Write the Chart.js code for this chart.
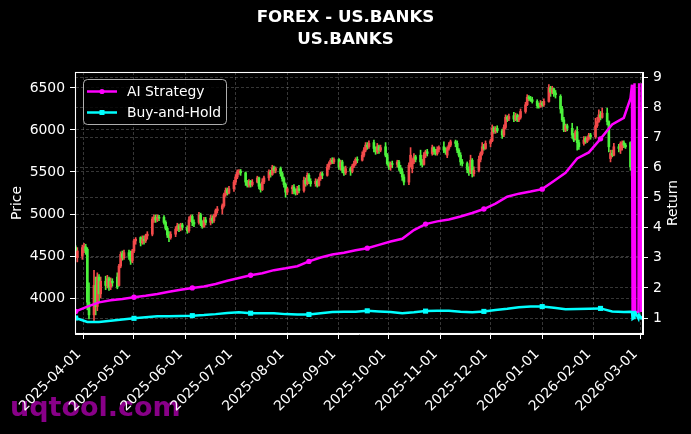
<!DOCTYPE html>
<html><head><meta charset="utf-8">
<script src="https://cdn.jsdelivr.net/npm/chart.js@4.4.1/dist/chart.umd.min.js"></script>
<style>html,body{margin:0;padding:0;background:#000;}#wrap{width:691px;height:434px;}</style>
</head><body><div id="wrap"><canvas id="c" width="691" height="434"></canvas></div>
<script>
// ---------- data ----------
const titleLines = ['FOREX - US.BANKS', 'US.BANKS'];
const candleStart = '2025-03-27'; // first trading day, weekdays follow
const openP = [4600,4480, 4500,4600,4610,4580,3950, 3800,4150,3900,4250,4050, 4200,4150,4230,4130,4200, 4250,4150,4380,4530,4480, 4540,4500,4440,4560,4680, 4720,4660,4700,4680,4740, 4760,4940,4960,4930,4960, 4960,4900,4830,4750,4720, 4760,4820,4860,4820,4870, 4840,4800,4930,4970,4900, 4900,4990,4900,4850,4930, 4900,4950,4920,4980,5040, 5060,5100,5230,5290,5250, 5300,5380,5440,5500,5510, 5490,5380,5340,5390,5350, 5380,5430,5330,5290,5380, 5430,5500,5470,5550,5520, 5540,5480,5420,5350,5260, 5300,5320,5270,5250,5300, 5280,5400,5360,5460,5390, 5360,5390,5340,5420,5480, 5460,5560,5600,5640,5620, 5650,5560,5620,5520,5490, 5540,5510,5570,5600,5650, 5640,5700,5760,5820,5800, 5850,5780,5740,5800,5760, 5800,5700,5600,5560,5600, 5590,5620,5550,5500,5440, 5380,5580,5540,5620,5680, 5700,5620,5590,5700,5740, 5720,5790,5740,5720,5770, 5800,5760,5700,5780,5820, 5860,5840,5760,5700,5620, 5600,5530,5500,5640,5480, 5520,5650,5720,5800,5780, 5840,5870,6020,5980,6020, 5990,5940,6030,6150,6130, 6170,6130,6170,6120,6150, 6220,6300,6390,6370,6360, 6340,6290,6280,6320,6300, 6340,6500,6450,6490,6440, 6400,6250,6120,6000,6050, 6020,5940,5900,5980,5850, 5840,5900,5860,5900,5940, 5920,6050,6100,6180,6150, 6200,6100,5660,5720,5700, 5800,5760,5790,5850,5820, 5850,5550];
const highP = [4620,4600, 4630,4650,4640,4600,4180, 4330,4250,4300,4280,4250, 4260,4270,4250,4240,4230, 4300,4400,4550,4560,4570, 4570,4560,4580,4700,4720, 4730,4740,4740,4760,4790, 4965,4990,4990,4990,4985, 4980,4920,4850,4790,4790, 4850,4890,4880,4890,4890, 4860,4965,4990,4990,4930, 5020,5010,4920,4960,4960, 4990,4980,5000,5060,5090, 5120,5250,5310,5310,5330, 5400,5470,5525,5530,5530, 5500,5400,5410,5400,5410, 5450,5440,5360,5420,5450, 5525,5520,5580,5570,5560, 5560,5500,5440,5370,5320, 5340,5350,5300,5330,5340, 5440,5430,5490,5480,5420, 5420,5410,5440,5500,5500, 5590,5620,5660,5670,5670, 5660,5640,5640,5560,5570, 5560,5590,5630,5670,5680, 5740,5790,5850,5850,5870, 5880,5800,5840,5820,5820, 5850,5720,5620,5620,5630, 5640,5640,5580,5540,5470, 5610,5790,5660,5720,5700, 5760,5650,5730,5760,5770, 5820,5800,5770,5800,5810, 5860,5790,5800,5850,5880, 5880,5870,5780,5730,5650, 5620,5560,5700,5660,5560, 5690,5740,5850,5830,5870, 5890,6060,6040,6040,6050, 6010,6060,6180,6170,6190, 6210,6200,6190,6180,6250, 6330,6420,6410,6400,6390, 6360,6320,6350,6340,6370, 6540,6520,6520,6500,6470, 6420,6280,6150,6070,6070, 6080,5960,6000,6040,5880, 5920,5920,5920,5960,5960, 6140,6150,6240,6220,6260, 6260,6110,5760,5760,5840, 5830,5860,5870,5870,5840, 5860,5570];
const lowP = [4480,4430, 4460,4540,4520,3860,3750, 3720,3800,3850,3960,4000, 4100,4120,4090,4100,4140, 4110,4140,4360,4450,4460, 4460,4400,4420,4540,4640, 4620,4640,4640,4660,4700, 4740,4900,4900,4910,4920, 4880,4810,4720,4670,4700, 4730,4800,4790,4800,4810, 4770,4780,4910,4860,4850, 4880,4860,4830,4840,4870, 4870,4890,4900,4965,5010, 5000,5080,5210,5225,5240, 5270,5350,5420,5470,5460, 5340,5320,5320,5320,5330, 5370,5300,5260,5280,5360, 5400,5440,5460,5490,5490, 5450,5390,5320,5200,5230, 5240,5240,5225,5230,5250, 5260,5330,5345,5360,5330, 5330,5320,5330,5400,5420, 5450,5530,5590,5600,5600, 5530,5520,5490,5460,5470, 5460,5490,5550,5580,5610, 5630,5680,5740,5770,5780, 5740,5710,5720,5720,5740, 5680,5580,5530,5520,5550, 5560,5520,5480,5400,5345, 5350,5560,5490,5600,5620, 5580,5560,5580,5670,5690, 5700,5710,5700,5700,5740, 5730,5710,5670,5760,5800, 5800,5730,5680,5580,5570, 5490,5460,5480,5440,5450, 5500,5620,5700,5760,5770, 5800,5860,5960,5960,5970, 5900,5920,6010,6100,6110, 6100,6110,6100,6100,6130, 6200,6290,6350,6340,6320, 6260,6260,6270,6280,6280, 6330,6400,6430,6400,6380, 6200,6100,5980,5980,5990, 5900,5860,5880,5760,5770, 5820,5840,5850,5880,5890, 5900,6030,6090,6120,6140, 6060,5740,5620,5680,5690, 5740,5720,5760,5790,5780, 5520,5430];
const closeP = [4500,4560, 4600,4620,4560,3950,3800, 4150,3900,4250,4050,4200, 4150,4230,4130,4200,4180, 4130,4380,4520,4480,4540, 4500,4440,4560,4680,4700, 4660,4700,4680,4740,4760, 4940,4960,4930,4960,4950, 4900,4830,4750,4720,4760, 4820,4860,4820,4870,4840, 4800,4930,4970,4900,4880, 4990,4900,4850,4930,4900, 4950,4920,4980,5040,5060, 5100,5230,5280,5250,5300, 5380,5440,5500,5510,5490, 5380,5340,5390,5350,5380, 5430,5330,5290,5380,5430, 5500,5470,5550,5520,5540, 5480,5420,5350,5260,5300, 5320,5270,5250,5300,5280, 5400,5360,5460,5390,5360, 5390,5340,5420,5480,5460, 5560,5600,5640,5620,5650, 5560,5620,5520,5490,5540, 5510,5570,5600,5650,5640, 5700,5760,5820,5800,5840, 5780,5740,5800,5760,5790, 5700,5600,5560,5600,5590, 5620,5550,5500,5440,5380, 5580,5700,5620,5680,5650, 5620,5590,5700,5740,5720, 5790,5740,5720,5770,5790, 5760,5740,5780,5820,5860, 5840,5760,5700,5620,5600, 5530,5500,5640,5480,5520, 5650,5720,5800,5780,5840, 5870,6020,5980,6020,5990, 5940,6030,6150,6130,6160, 6130,6170,6120,6150,6220, 6300,6390,6370,6360,6340, 6290,6280,6320,6300,6340, 6500,6450,6490,6440,6420, 6250,6120,6000,6050,6020, 5940,5880,5980,5850,5800, 5880,5860,5900,5940,5920, 6050,6100,6180,6150,6200, 6100,5800,5720,5700,5800, 5780,5840,5850,5820,5800, 5560,5460];

const returnStart = '2025-03-27'; // weekly samples
const aiReturn = [1.22,1.38,1.52,1.59,1.63,1.69,1.74,1.80,1.87,1.94,2.00,2.05,2.13,2.24,2.33,2.42,2.49,2.59,2.65,2.72,2.88,3.01,3.11,3.17,3.25,3.32,3.43,3.54,3.63,3.92,4.12,4.21,4.27,4.37,4.49,4.62,4.80,5.03,5.13,5.20,5.28,5.55,5.82,6.30,6.50,6.95,7.43,7.65];
const bhReturn = [1.00,0.87,0.87,0.91,0.95,0.99,1.03,1.06,1.06,1.07,1.08,1.10,1.13,1.17,1.19,1.16,1.16,1.16,1.13,1.12,1.12,1.16,1.20,1.21,1.21,1.24,1.22,1.20,1.16,1.19,1.23,1.24,1.24,1.21,1.19,1.22,1.27,1.31,1.36,1.38,1.38,1.34,1.29,1.30,1.31,1.32,1.22,1.20];
const tailTimes = ['2026-02-23T00:00','2026-02-23T21:36','2026-02-24T06:00','2026-02-25T02:24','2026-02-25T09:36','2026-02-25T19:12','2026-02-27T19:12','2026-02-28T04:48','2026-03-01T09:36','2026-03-02T00:00'];
const aiTail = [8.30,8.75,1.20,1.20,8.80,1.20,1.20,8.80,1.20,8.80];
const bhTail = [1.21,1.20,0.97,1.00,1.20,1.20,0.98,1.10,1.00,1.05];

const monthTicks = ['2025-04-01','2025-05-01','2025-06-01','2025-07-01','2025-08-01','2025-09-01','2025-10-01','2025-11-01','2025-12-01','2026-01-01','2026-02-01','2026-03-01'];
const priceTicks = [4000,4500,5000,5500,6000,6500];
const returnTicks = [1,2,3,4,5,6,7,8,9];

// ---------- helpers ----------
const BASE = Date.UTC(2025,3,1);
const DAY = 86400000;
function toDay(s){
  const [d,t] = s.split('T');
  const [y,m,dd] = d.split('-').map(Number);
  let ms = Date.UTC(y,m-1,dd);
  if (t){ const [hh,mm] = t.split(':').map(Number); ms += (hh*60+mm)*60000; }
  return (ms-BASE)/DAY;
}
const nC = Math.min(openP.length, highP.length, lowP.length, closeP.length);
const candleDays = [];
{ let ms = BASE + toDay(candleStart)*DAY;
  while (candleDays.length < nC){ const wd = new Date(ms).getUTCDay(); if (wd!==0 && wd!==6) candleDays.push((ms-BASE)/DAY); ms += DAY; } }
const RED = '#f24a4a', GREEN = '#4cf23c';
const cColors = [];
for (let i=0;i<nC;i++) cColors.push(closeP[i] >= openP[i] ? RED : GREEN);
const bodies = [], wicks = [];
for (let i=0;i<nC;i++){ bodies.push({x:candleDays[i], y:[openP[i], closeP[i]]}); wicks.push({x:candleDays[i], y:[lowP[i], highP[i]]}); }
const r0 = toDay(returnStart);
function lineData(weekly, tail){
  return weekly.map((v,i)=>({x:r0+7*i, y:v})).concat(tail.map((v,i)=>({x:toDay(tailTimes[i]), y:v})));
}
const FONT = '"DejaVu Sans", "Liberation Sans", sans-serif';
const GRID = 'rgba(255,255,255,0.27)';

const deco = {
  id:'deco',
  beforeDraw(chart){
    const c = chart.ctx;
    c.save(); c.fillStyle = '#000'; c.fillRect(0,0,chart.width,chart.height);
    c.font = 'bold 27px ' + FONT; c.fillStyle = '#880088'; c.textBaseline = 'alphabetic'; c.textAlign = 'left';
    c.fillText('uqtool.com', 10, 416);
    c.restore();
  },
  afterDatasetsDraw(chart){
    const c = chart.ctx, a = chart.chartArea;
    c.save();
    c.strokeStyle = '#fff'; c.lineWidth = 1.1;
    c.strokeRect(a.left+0.5, a.top+0.5, a.right-a.left-1, a.bottom-a.top-1);
    // legend
    const lx = 83.5, ly = 79.5, lw = 143, lh = 45;
    c.beginPath(); c.roundRect(lx, ly, lw, lh, 4);
    c.fillStyle = 'rgba(0,0,0,0.8)'; c.fill();
    c.strokeStyle = 'rgba(204,204,204,0.85)'; c.lineWidth = 1; c.stroke();
    const rows = [{y:91.5, col:'#ff00ff', txt:'AI Strategy', m:'c'},{y:112.5, col:'#00ffff', txt:'Buy-and-Hold', m:'s'}];
    c.font = '13.9px ' + FONT; c.textBaseline = 'middle'; c.textAlign = 'left';
    rows.forEach(r=>{
      c.strokeStyle = r.col; c.lineWidth = 2.5; c.beginPath(); c.moveTo(87, r.y); c.lineTo(117, r.y); c.stroke();
      c.fillStyle = r.col;
      if (r.m==='c'){ c.beginPath(); c.arc(102, r.y, 2.6, 0, Math.PI*2); c.fill(); }
      else { c.fillRect(99.5, r.y-2.5, 5, 5); }
      c.fillStyle = '#fff'; c.fillText(r.txt, 127, r.y+0.5);
    });
    c.restore();
  },
  afterDraw(chart){
    const c = chart.ctx, a = chart.chartArea;
    c.save();
    c.fillStyle = '#fff'; c.textAlign = 'center'; c.textBaseline = 'middle';
    c.font = 'bold 16.7px ' + FONT;
    c.fillText(titleLines[0], 345.5, 18);
    c.fillText(titleLines[1], 345.5, 40);
    c.font = '13.9px ' + FONT;
    const cy = (a.top+a.bottom)/2;
    c.translate(17.5, cy); c.rotate(-Math.PI/2); c.fillText('Price', 0, 0);
    c.setTransform(1,0,0,1,0,0);
    c.translate(673.5, cy); c.rotate(-Math.PI/2); c.fillText('Return', 0, 0);
    c.restore();
  }
};

new Chart(document.getElementById('c'), {
  type:'line',
  data:{ datasets:[
    {type:'line', label:'Buy-and-Hold', data:lineData(bhReturn, bhTail), yAxisID:'y1', xAxisID:'x', borderColor:'#00ffff', backgroundColor:'#00ffff', borderWidth:2.5, tension:0, fill:false,
      pointStyle:'rect', pointRadius:(ctx)=> (ctx.dataIndex < bhReturn.length && ctx.dataIndex % 5 === 0) ? 3.6 : 0, pointBorderWidth:0},
    {type:'line', label:'AI Strategy', data:lineData(aiReturn, aiTail), yAxisID:'y1', xAxisID:'x', borderColor:'#ff00ff', backgroundColor:'#ff00ff', borderWidth:2.5, tension:0, fill:false,
      pointStyle:'circle', pointRadius:(ctx)=> (ctx.dataIndex < aiReturn.length && ctx.dataIndex % 5 === 0) ? 2.7 : 0, pointBorderWidth:0},
    {type:'bar', label:'body', data:bodies, yAxisID:'y', xAxisID:'x', backgroundColor:cColors, borderWidth:0, barThickness:2, grouped:false},
    {type:'bar', label:'wick', data:wicks, yAxisID:'y', xAxisID:'x', backgroundColor:cColors, borderWidth:0, barThickness:1, grouped:false}
  ]},
  options:{
    responsive:false, animation:false, devicePixelRatio:1,
    events:[],
    layout:{padding:{top:72, left:0, right:0, bottom:0}},
    plugins:{legend:{display:false}, tooltip:{enabled:false}, title:{display:false}},
    scales:{
      x:{type:'linear', position:'bottom', min:toDay('2025-03-27')-0.4, max:toDay('2026-03-02')+0.5, offset:false,
        afterBuildTicks:(s)=>{ s.ticks = monthTicks.map(t=>({value:toDay(t)})); },
        afterFit:(s)=>{ s.height = 100; },
        ticks:{autoSkip:false, minRotation:45, maxRotation:45, color:'#fff', font:{family:FONT, size:13.9}, padding:7, labelOffset:-5,
          callback:(v,i)=> monthTicks[i]},
        grid:{color:GRID, lineWidth:0.8, tickColor:'#fff', tickLength:5, tickWidth:1, offset:false},
        border:{display:true, color:'#fff', width:1, dash:[3,2]}},
      y:{type:'linear', position:'left', min:3572, max:6690, beginAtZero:false,
        afterBuildTicks:(s)=>{ s.ticks = priceTicks.map(v=>({value:v})); },
        afterFit:(s)=>{ s.width = 75; },
        ticks:{color:'#fff', font:{family:FONT, size:13.9}, padding:5, callback:(v)=> String(v)},
        grid:{color:GRID, lineWidth:0.8, tickColor:'#fff', tickLength:5, tickWidth:1},
        border:{display:true, color:'#fff', width:1, dash:[3,2]}},
      y1:{type:'linear', position:'right', min:0.47, max:9.17, beginAtZero:false,
        afterBuildTicks:(s)=>{ s.ticks = returnTicks.map(v=>({value:v})); },
        afterFit:(s)=>{ s.width = 48; },
        ticks:{color:'#fff', font:{family:FONT, size:13.9}, padding:5, callback:(v)=> String(v)},
        grid:{color:GRID, lineWidth:0.8, tickColor:'#fff', tickLength:5, tickWidth:1, drawOnChartArea:true},
        border:{display:true, color:'#fff', width:1, dash:[3,2]}}
    }
  },
  plugins:[deco]
});
</script></body></html>
